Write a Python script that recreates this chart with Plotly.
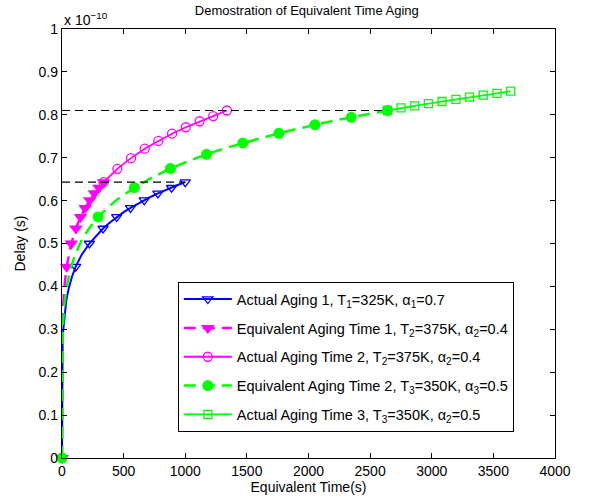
import plotly.graph_objects as go

# Delay values are in units of 1e-10 s
# Actual Aging 1, T1=325K
a1_t = [0, 0.5, 2, 5, 10, 20, 35, 55, 80, 111, 160, 222, 278, 333, 389, 444, 500,
        556, 611, 667, 722, 778, 833, 889, 944, 1000]
a1_d = [0, 0.181, 0.228, 0.266, 0.298, 0.335, 0.368, 0.396, 0.422, 0.446, 0.474, 0.500,
        0.519, 0.535, 0.549, 0.562, 0.573, 0.583, 0.592, 0.601, 0.609, 0.617, 0.624,
        0.630, 0.637, 0.643]
a1_mk = [0, 111, 222, 333, 444, 556, 667, 778, 889, 1000]

# Equivalent Aging Time 1, T2=375K
e1_t = [0, 0.5, 2, 5, 10, 20, 37.6, 56, 75.1, 112.7, 150.2, 187.8, 225.3, 262.9, 300.4, 338]
e1_d = [0, 0.217, 0.273, 0.319, 0.358, 0.401, 0.446, 0.476, 0.500, 0.535, 0.562, 0.583,
        0.601, 0.617, 0.630, 0.643]
e1_mk = [0, 37.6, 75.1, 112.7, 150.2, 187.8, 225.3, 262.9, 300.4, 338]

# Actual Aging Time 2, T2=375K
a2_t = [338, 449, 560, 671, 782, 893, 1004, 1116, 1227, 1338]
a2_d = [0.643, 0.674, 0.699, 0.721, 0.739, 0.756, 0.771, 0.785, 0.797, 0.810]
a2_mk = [338, 449, 560, 671, 782, 893, 1004, 1116, 1227, 1338]

# Equivalent Aging Time 2, T3=350K
e2_t = [0, 0.5, 2, 5, 10, 20, 40, 70, 110, 160, 220, 293, 440, 587, 733, 880, 1027, 1173,
        1320, 1467, 1613, 1760, 1907, 2053, 2200, 2347, 2493, 2640]
e2_d = [0, 0.194, 0.245, 0.285, 0.320, 0.359, 0.403, 0.442, 0.477, 0.508, 0.535, 0.562,
        0.601, 0.630, 0.654, 0.675, 0.692, 0.708, 0.722, 0.734, 0.746, 0.757, 0.767,
        0.777, 0.786, 0.794, 0.802, 0.810]
e2_mk = [0, 293, 587, 880, 1173, 1467, 1760, 2053, 2347, 2640]

# Actual Aging Time 3, T3=350K
a3_t = [2640, 2751, 2862, 2973, 3084, 3196, 3307, 3418, 3529, 3640]
a3_d = [0.810, 0.816, 0.821, 0.826, 0.831, 0.836, 0.841, 0.846, 0.850, 0.855]
a3_mk = [2640, 2751, 2862, 2973, 3084, 3196, 3307, 3418, 3529, 3640]

x_ticks = [0, 500, 1000, 1500, 2000, 2500, 3000, 3500, 4000]
y_ticks = [0, 0.1, 0.2, 0.3, 0.4, 0.5, 0.6, 0.7, 0.8, 0.9, 1]
y_ticklabels = ["0", "0.1", "0.2", "0.3", "0.4", "0.5", "0.6", "0.7", "0.8", "0.9", "1"]

names = [
    "Actual Aging 1, T<sub>1</sub>=325K, α<sub>1</sub>=0.7",
    "Equivalent Aging Time 1, T<sub>2</sub>=375K, α<sub>2</sub>=0.4",
    "Actual Aging Time 2, T<sub>2</sub>=375K, α<sub>2</sub>=0.4",
    "Equivalent Aging Time 2, T<sub>3</sub>=350K, α<sub>3</sub>=0.5",
    "Actual Aging Time 3, T<sub>3</sub>=350K, α<sub>2</sub>=0.5",
]

FONT = "Liberation Sans, Arial, sans-serif"
FS = 14
BLUE, MAG, GREEN = "#0000FF", "#FF00FF", "#00FF00"

series = [
    (a1_t, a1_d, a1_mk, BLUE, "solid", 2,
     dict(symbol="triangle-down-open", size=9, color=BLUE, line=dict(width=1.3, color=BLUE))),
    (e1_t, e1_d, e1_mk, MAG, "12px,7px", 2.5,
     dict(symbol="triangle-down", size=12, color=MAG, line=dict(width=0))),
    (a2_t, a2_d, a2_mk, MAG, "solid", 1.8,
     dict(symbol="circle-open", size=9, color=MAG, line=dict(width=1.3, color=MAG))),
    (e2_t, e2_d, e2_mk, GREEN, "12px,7px", 2.5,
     dict(symbol="circle", size=11, color=GREEN, line=dict(width=0))),
    (a3_t, a3_d, a3_mk, GREEN, "solid", 1.8,
     dict(symbol="square-open", size=8, color=GREEN, line=dict(width=1.3, color=GREEN))),
]

fig = go.Figure()
for i, (t, d, mk, col, dash, lw, marker) in enumerate(series):
    sel = [t.index(m) for m in mk]
    fig.add_trace(go.Scatter(
        x=t, y=d, mode="lines+markers", name=names[i],
        line=dict(color=col, width=lw, dash=dash),
        marker=marker,
        selectedpoints=sel,
        unselected=dict(marker=dict(opacity=0)),
        legendgroup=f"g{i}",
        cliponaxis=False,
    ))

# reference dashed lines
fig.add_trace(go.Scatter(
    x=[0, a1_t[-1]], y=[a1_d[-1], a1_d[-1]], mode="lines",
    line=dict(color="black", width=1.2, dash="8px,5px"), showlegend=False))
fig.add_trace(go.Scatter(
    x=[0, e2_t[-1]], y=[e2_d[-1], e2_d[-1]], mode="lines",
    line=dict(color="black", width=1.2, dash="8px,5px"), showlegend=False))

axis_common = dict(
    showline=True, linecolor="black", linewidth=1.3, mirror="ticks",
    ticks="inside", ticklen=5, tickcolor="black", tickwidth=1,
    showgrid=False, zeroline=False, automargin=False,
    tickfont=dict(family=FONT, size=FS, color="black"),
)

fig.update_layout(
    width=590, height=497,
    margin=dict(l=62, r=35, t=29, b=39),
    paper_bgcolor="white", plot_bgcolor="white",
    font=dict(family=FONT, size=FS, color="black"),
    title=dict(text="Demostration of Equivalent Time Aging", x=0.52, xanchor="center",
               y=0.988, yanchor="top", font=dict(family=FONT, size=13, color="black")),
    xaxis=dict(range=[0, 4000], tickvals=x_ticks, ticktext=[str(v) for v in x_ticks],
               title=dict(text="Equivalent Time(s)", standoff=2,
                          font=dict(family=FONT, size=FS)),
               **axis_common),
    yaxis=dict(range=[0, 1], tickvals=y_ticks, ticktext=y_ticklabels,
               title=dict(text="Delay (s)", standoff=9, font=dict(family=FONT, size=FS)),
               **axis_common),
    legend=dict(x=0.235, y=0.41, xanchor="left", yanchor="top",
                bgcolor="white", bordercolor="black", borderwidth=1,
                font=dict(family=FONT, size=14.5, color="black"),
                tracegroupgap=7, itemwidth=48),
    annotations=[dict(text="x 10<sup>−10</sup>", xref="paper", yref="paper",
                      x=0, y=1, xanchor="left", yanchor="bottom", showarrow=False,
                      font=dict(family=FONT, size=FS, color="black"), yshift=-1)],
)

fig.write_html("out.html")
